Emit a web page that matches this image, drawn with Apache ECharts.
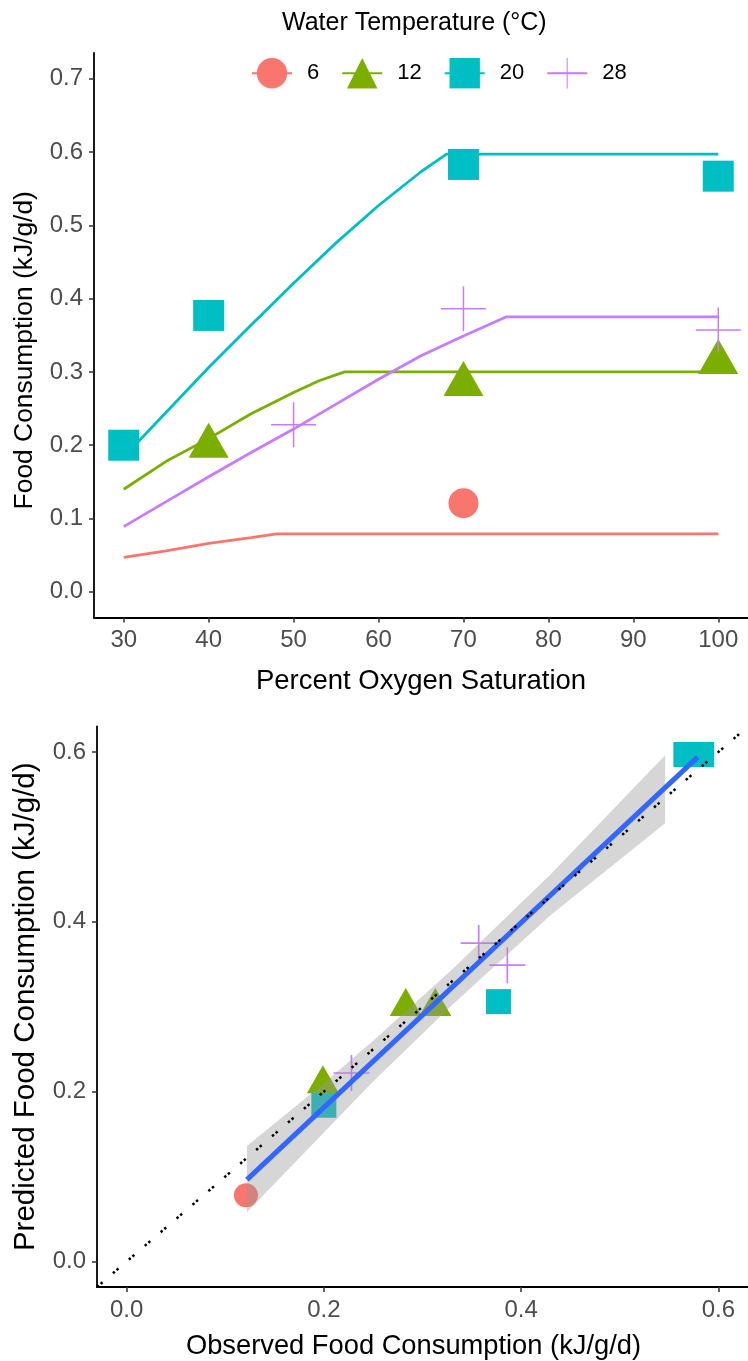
<!DOCTYPE html>
<html><head><meta charset="utf-8">
<script src="https://cdn.jsdelivr.net/npm/echarts@6.0.0/dist/echarts.min.js"></script>
<style>html,body{margin:0;padding:0;background:#fff}#c{width:748px;height:1361px}</style>
</head><body><div id="c"></div>
<script>
// ---------- DATA ----------
const temps = ['6', '12', '20', '28'];

// Model curves (top panel): oxygen saturation vs predicted consumption
const curveO2_6  = [30, 35, 40, 45, 48, 100];
const curveY_6   = [0.047, 0.056, 0.066, 0.074, 0.079, 0.079];
const curveO2_12 = [30, 35, 40, 45, 50, 53, 56, 100];
const curveY_12  = [0.140, 0.178, 0.209, 0.243, 0.272, 0.288, 0.300, 0.300];
const curveO2_20 = [30, 35, 40, 45, 50, 55, 60, 65, 68, 100];
const curveY_20  = [0.184, 0.245, 0.306, 0.364, 0.421, 0.476, 0.527, 0.573, 0.597, 0.597];
const curveO2_28 = [30, 35, 40, 45, 50, 55, 60, 65, 70, 75, 100];
const curveY_28  = [0.089, 0.123, 0.157, 0.190, 0.222, 0.256, 0.290, 0.322, 0.349, 0.375, 0.375];

// Observed points (top panel)
const obsO2_6  = [70];
const obsY_6   = [0.121];
const obsO2_12 = [40, 70, 100];
const obsY_12  = [0.199, 0.283, 0.313];
const obsO2_20 = [30, 40, 70, 100];
const obsY_20  = [0.200, 0.377, 0.583, 0.567];
const obsO2_28 = [50, 70, 100];
const obsY_28  = [0.228, 0.386, 0.357];

// Observed vs predicted (bottom panel)
const predY_6  = [0.078];
const predY_12 = [0.209, 0.300, 0.300];
const predY_20 = [0.184, 0.306, 0.597, 0.597];
const predY_28 = [0.222, 0.349, 0.375];

// Linear fit and its confidence band (bottom panel)
const fitX = [0.122, 0.579];
const fitY = [0.0965, 0.594];
const bandX  = [0.122, 0.200, 0.250, 0.330, 0.430, 0.546];
const bandLo = [0.058, 0.152, 0.212, 0.302, 0.408, 0.516];
const bandHi = [0.136, 0.210, 0.260, 0.344, 0.456, 0.596];

// 1:1 reference line
const refXY = [-0.03, 0.63];

// Tick labels
const topXTicks = [30, 40, 50, 60, 70, 80, 90, 100];
const topYTicks = [0, 0.1, 0.2, 0.3, 0.4, 0.5, 0.6, 0.7];
const botTicks  = [0, 0.2, 0.4, 0.6];

// ---------- STYLE ----------
const FONT = '"Liberation Sans", Arial, sans-serif';
const colors = ['#F8766D', '#7CAE00', '#00BFC4', '#C77CFF'];
const plusTop = 'path://M29,0h2v29h29v2h-29v29h-2v-29h-29v-2h29z';
const plusBot = 'path://M28.6,0h2.8v28.6h28.6v2.8h-28.6v28.6h-2.8v-28.6h-28.6v-2.8h28.6z';
const symTop = ['circle', 'triangle', 'rect', plusTop];
const symBot = ['circle', 'triangle', 'rect', plusBot];
const sizeTop = [30, [40, 35], 31, 45];
const sizeBot = [24, [32, 28], 25, 36];
const offTop = [[0,0], [0,-5.8], [0,0], [0,0]];
const offBot = [[0,0], [0,-4.7], [0,0], [0,0]];
const TICK_FS = 24;

const curveO2 = [curveO2_6, curveO2_12, curveO2_20, curveO2_28];
const curveY = [curveY_6, curveY_12, curveY_20, curveY_28];
const obsO2 = [obsO2_6, obsO2_12, obsO2_20, obsO2_28];
const obsY = [obsY_6, obsY_12, obsY_20, obsY_28];
const predY = [predY_6, predY_12, predY_20, predY_28];
const zip = (a, b) => a.map((v, i) => [v, b[i]]);

function axisBase(extra, ticks, fmt, nameStyle) {
  return Object.assign({
    type: 'value',
    axisLine: { show: true, onZero: false, lineStyle: { color: '#000', width: 1.8 } },
    axisTick: { show: true, length: 5, lineStyle: { color: '#333', width: 1.5 }, customValues: ticks },
    axisLabel: { color: '#4d4d4d', fontSize: TICK_FS, fontFamily: FONT, margin: 11, customValues: ticks, formatter: fmt },
    splitLine: { show: false },
    nameLocation: 'middle',
    nameTextStyle: Object.assign({ color: '#000', fontFamily: FONT }, nameStyle)
  }, extra);
}

const series = [];
temps.forEach((t, i) => {
  series.push({
    name: t, type: 'line', xAxisIndex: 0, yAxisIndex: 0,
    data: zip(curveO2[i], curveY[i]),
    symbol: symTop[i], showSymbol: false,
    itemStyle: { color: colors[i] },
    lineStyle: { color: colors[i], width: 2.8 },
    z: 2, silent: true
  });
});
temps.forEach((t, i) => {
  series.push({
    name: t, type: 'scatter', xAxisIndex: 0, yAxisIndex: 0,
    data: zip(obsO2[i], obsY[i]),
    symbol: symTop[i], symbolSize: sizeTop[i], symbolOffset: offTop[i],
    itemStyle: { color: colors[i], opacity: 1 },
    z: 3
  });
});
temps.forEach((t, i) => {
  series.push({
    name: t, type: 'scatter', xAxisIndex: 1, yAxisIndex: 1,
    data: zip(obsY[i], predY[i]),
    symbol: symBot[i], symbolSize: sizeBot[i], symbolOffset: offBot[i],
    itemStyle: { color: colors[i], opacity: 1 },
    z: 2
  });
});
series.push({
  type: 'custom', xAxisIndex: 1, yAxisIndex: 1, z: 3, silent: true,
  data: bandX.map((x, i) => [x, bandLo[i], bandHi[i]]),
  encode: { x: 0, y: [1, 2] },
  renderItem: function (params, api) {
    if (params.dataIndex !== 0) return null;
    const pts = [];
    for (let i = 0; i < bandX.length; i++) pts.push(api.coord([bandX[i], bandHi[i]]));
    for (let i = bandX.length - 1; i >= 0; i--) pts.push(api.coord([bandX[i], bandLo[i]]));
    return { type: 'polygon', shape: { points: pts }, style: { fill: 'rgba(153,153,153,0.4)' } };
  }
});
series.push({
  type: 'line', xAxisIndex: 1, yAxisIndex: 1, z: 4, silent: true,
  data: zip(fitX, fitY), symbol: 'none',
  lineStyle: { color: '#3366FF', width: 5 }
});
series.push({
  type: 'line', xAxisIndex: 1, yAxisIndex: 1, z: 5, silent: true,
  data: zip(refXY, refXY), symbol: 'none',
  lineStyle: { color: '#000', width: 2.5, type: [2.5, 2.3, 2.5, 13.7] }
});

const option = {
  animation: false,
  backgroundColor: '#fff',
  title: [{
    text: 'Water Temperature (°C)', left: 277, top: 6,
    textStyle: { fontSize: 25, fontWeight: 'normal', color: '#000', fontFamily: FONT }
  }],
  legend: {
    data: temps, left: 246, top: 53, itemWidth: 40, itemHeight: 38, itemGap: 22,
    selectedMode: false,
    textStyle: { fontSize: 22, color: '#000', fontFamily: FONT, padding: [0, 0, 0, 10] }
  },
  grid: [
    { left: 94, top: 53, width: 658, height: 564.5 },
    { left: 97, top: 726.5, width: 663, height: 561 }
  ],
  xAxis: [
    axisBase({ gridIndex: 0, min: 26.5, max: 103.5, name: 'Percent Oxygen Saturation', nameGap: 50 },
      topXTicks, v => String(Math.round(v)), { fontSize: 27.5 }),
    axisBase({ gridIndex: 1, min: -0.03, max: 0.63, name: 'Observed Food Consumption (kJ/g/d)', nameGap: 46 },
      botTicks, v => v.toFixed(1), { fontSize: 27.3, padding: [0, 18, 0, 0] })
  ],
  yAxis: [
    axisBase({ gridIndex: 0, min: -0.035, max: 0.735, name: 'Food Consumption (kJ/g/d)', nameGap: 56 },
      topYTicks, v => v.toFixed(1), { fontSize: 26.4, padding: [0, 30, 0, 0] }),
    axisBase({ gridIndex: 1, min: -0.03, max: 0.63, name: 'Predicted Food Consumption (kJ/g/d)', nameGap: 56 },
      botTicks, v => v.toFixed(1), { fontSize: 29.5 })
  ],
  series: series
};

const chart = echarts.init(document.getElementById('c'), null, { renderer: 'canvas' });
chart.setOption(option);
</script>
</body></html>
